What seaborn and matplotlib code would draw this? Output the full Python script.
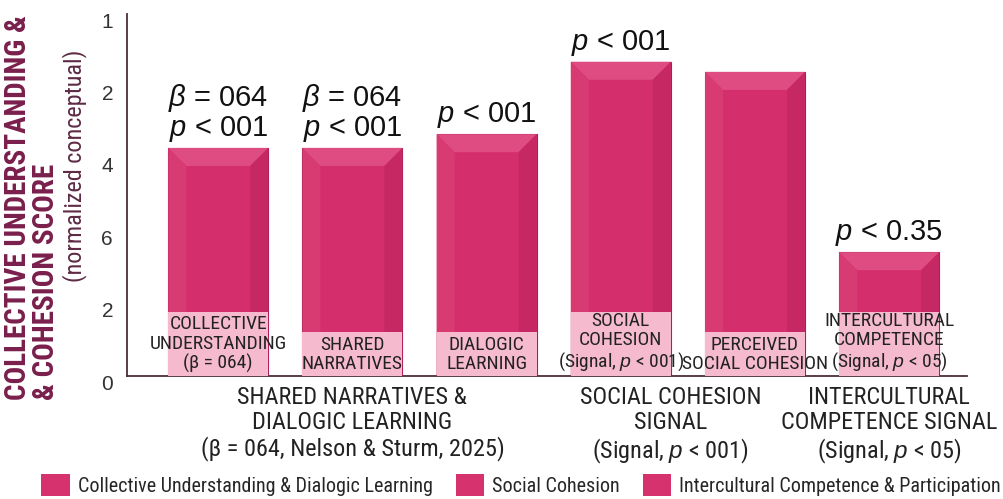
import matplotlib
matplotlib.use("Agg")
import matplotlib.pyplot as plt
import seaborn as sns
import pandas as pd
from matplotlib.patches import Polygon, Rectangle, Patch
from matplotlib.transforms import offset_copy
from matplotlib import font_manager as fm

# ---------------- data ----------------
categories = ["Collective Understanding", "Shared Narratives", "Dialogic Learning",
              "Social Cohesion", "Perceived Social Cohesion", "Intercultural Competence"]
scores = [3.15, 3.15, 3.34, 4.34, 4.20, 1.71]
bar_labels = ["COLLECTIVE\nUNDERSTANDING\n(β = 064)",
              "SHARED\nNARRATIVES",
              "DIALOGIC\nLEARNING",
              "SOCIAL\nCOHESION\n(Signal, $p$ < 001)",
              "PERCEIVED\nSOCIAL COHESION",
              "INTERCULTURAL\nCOMPETENCE\n(Signal, $p$ < 05)"]
annotations = ["$\\beta$ = 064\n$p$ < 001", "$\\beta$ = 064\n$p$ < 001", "$p$ < 001",
               "$p$ < 001", "", "$p$ < 0.35"]
group_labels = ["SHARED NARRATIVES &\nDIALOGIC LEARNING\n(β = 064, Nelson & Sturm, 2025)",
                "SOCIAL COHESION\nSIGNAL\n(Signal, $p$ < 001)",
                "INTERCULTURAL\nCOMPETENCE SIGNAL\n(Signal, $p$ < 05)"]
ytick_values = [0, 1, 2, 3, 4, 5]
ytick_labels = ["0", "2", "6", "4", "2", "1"]
legend_labels = ["Collective Understanding & Dialogic Learning", "Social Cohesion",
                 "Intercultural Competence & Participation"]
y_title = "COLLECTIVE UNDERSTANDING &\n& COHESION SCORE"
y_subtitle = "(normalized conceptual)"

# ---------------- style ----------------
sns.set_theme(style="white")

# pick a condensed sans font if one is installed
_fonts = fm.fontManager.ttflist
_names = {f.name for f in _fonts}
NARROW_FAMILY, NARROW_STRETCH, SCALE = "Liberation Sans", "normal", 0.8
for n in ["Liberation Sans Narrow", "Arial Narrow", "Roboto Condensed",
          "Open Sans Condensed", "Noto Sans Condensed", "DejaVu Sans Condensed"]:
    if n in _names:
        NARROW_FAMILY, NARROW_STRETCH, SCALE = n, "normal", 1.0
        break
else:
    for fam in ["Noto Sans", "Roboto", "Open Sans", "DejaVu Sans", "Liberation Sans"]:
        if any(f.name == fam and f.stretch in ("condensed", "semi-condensed")
               for f in _fonts):
            NARROW_FAMILY, NARROW_STRETCH, SCALE = fam, "condensed", 1.0
            break


def nprops(size, weight="normal"):
    return dict(family=[NARROW_FAMILY, "DejaVu Sans"], fontstretch=NARROW_STRETCH,
                fontsize=size * SCALE, fontweight=weight)


REG = ["Liberation Sans", "DejaVu Sans"]
plt.rcParams["font.family"] = REG
plt.rcParams["mathtext.fontset"] = "custom"
plt.rcParams["mathtext.it"] = "Liberation Sans:italic"
plt.rcParams["mathtext.rm"] = "Liberation Sans"

BAR = "#D42F6C"
TOP = "#DE4C82"
LEFT = "#D83A72"
RIGHT = "#C62864"
BAND = "#F5BACD"
TXT = "#222222"
MAROON = "#7A1F4B"

W, H = 1004, 499
fig = plt.figure(figsize=(W / 100, H / 100), dpi=100)
ax_l, ax_r, ax_b, ax_t = 127, 967, 376, 14
ax = fig.add_axes([ax_l / W, 1 - ax_b / H, (ax_r - ax_l) / W, (ax_b - ax_t) / H])

df = pd.DataFrame({"category": categories, "score": scores})
sns.barplot(data=df, x="category", y="score", color=BAR, saturation=1, width=0.745,
            edgecolor="#A81E55", linewidth=0.8, ax=ax, zorder=2)

xlo, xhi = -0.68, 5.58
ax.set_xlim(xlo, xhi)
ax.set_ylim(0, 5)
px_x = (ax_r - ax_l) / (xhi - xlo)
px_y = (ax_b - ax_t) / 5.0
bx, by = 18 / px_x, 18 / px_y

bars = list(ax.patches)
centers = []
for p, lab, ann in zip(bars, bar_labels, annotations):
    x0, w, h = p.get_x(), p.get_width(), p.get_height()
    cx = x0 + w / 2
    centers.append(cx)
    ax.add_patch(Polygon([(x0, h), (x0 + w, h), (x0 + w - bx, h - by), (x0 + bx, h - by)],
                         closed=True, facecolor=TOP, edgecolor="none", zorder=3))
    ax.add_patch(Polygon([(x0, 0), (x0, h), (x0 + bx, h - by), (x0 + bx, 0)],
                         closed=True, facecolor=LEFT, edgecolor="none", zorder=3))
    ax.add_patch(Polygon([(x0 + w, 0), (x0 + w, h), (x0 + w - bx, h - by), (x0 + w - bx, 0)],
                         closed=True, facecolor=RIGHT, edgecolor="none", zorder=3))
    nlines = lab.count("\n") + 1
    band_h = (nlines * 20 + 4) / px_y
    ax.add_patch(Rectangle((x0, 0), w, band_h, facecolor=BAND, edgecolor="none", zorder=4))
    ax.text(cx, 3 / px_y, lab, ha="center", va="bottom", color=TXT,
            linespacing=1.08, zorder=5, **nprops(14))
    if ann:
        ax.text(cx, h + 4 / px_y, ann, ha="center", va="bottom", fontsize=21,
                color="#111111", family=REG, linespacing=1.0, zorder=5)

group_x = [centers[1], 3.37, centers[5]]
for gx, gl in zip(group_x, group_labels):
    ax.text(gx, -10 / px_y, gl, ha="center", va="top", color=TXT,
            linespacing=1.12, clip_on=False, **nprops(17.5))

ax.set_xticks([])
ax.set_xlabel("")
ax.set_ylabel("")
ax.set_yticks(ytick_values)
ax.set_yticklabels(ytick_labels, fontsize=15, color="#333333", family=REG)
ax.tick_params(axis="y", length=0, pad=10)
for t in ax.get_yticklabels():
    t.set_transform(offset_copy(t.get_transform(), fig=fig, x=0, y=-6, units="dots"))

for s in ["top", "right"]:
    ax.spines[s].set_visible(False)
for s in ["left", "bottom"]:
    ax.spines[s].set_color("#4A2E3C")
    ax.spines[s].set_linewidth(1.3)

fig.text(4 / W, 1 - 400 / H, y_title, rotation=90, ha="left", va="bottom",
         multialignment="left", color=MAROON, linespacing=1.02, **nprops(21, "bold"))
fig.text(75 / W, 1 - 166 / H, y_subtitle, rotation=90, ha="center", va="center",
         color="#5E2A45", **nprops(17.4))

handles = [Patch(facecolor="#D6336E", edgecolor="none", label=l) for l in legend_labels]
lp = nprops(14.5)
fig.legend(handles=handles, loc="center", bbox_to_anchor=(521 / W, 1 - 485 / H), ncol=3,
           frameon=False,
           prop=fm.FontProperties(family=lp["family"], stretch=lp["fontstretch"],
                                  size=lp["fontsize"]),
           handlelength=1.4, handleheight=1.3, handletextpad=0.4, columnspacing=1.15,
           borderpad=0.0, borderaxespad=0.0)

fig.savefig("out.png", dpi=100, facecolor="white")
